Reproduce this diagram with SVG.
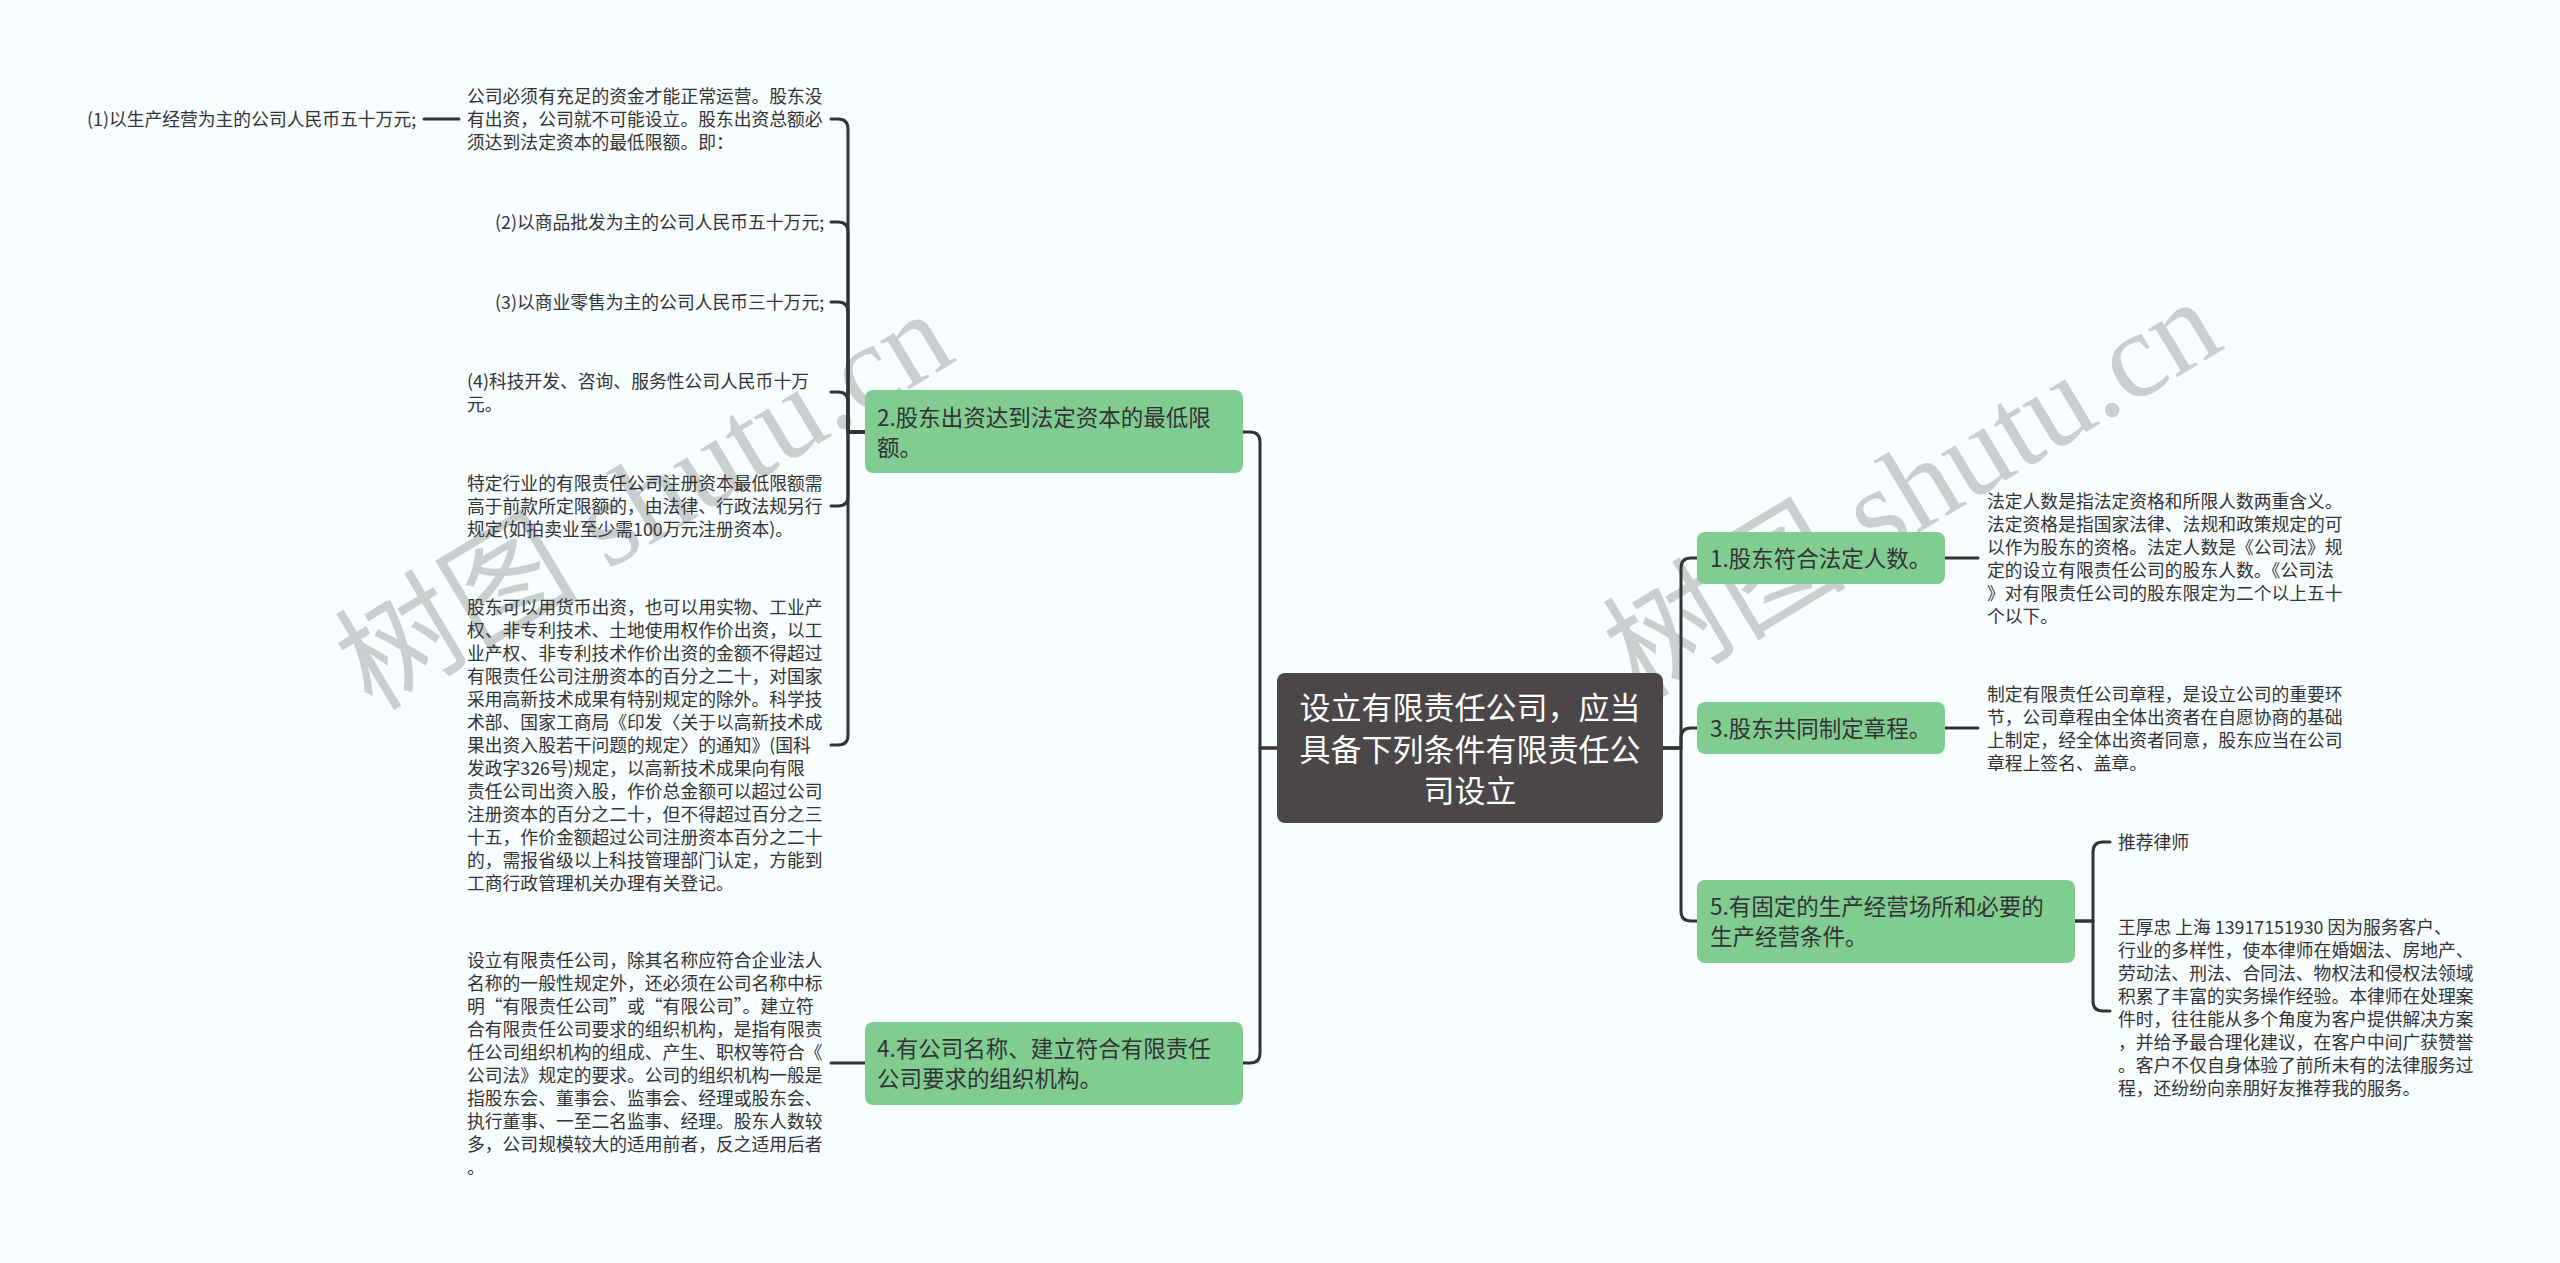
<svg xmlns="http://www.w3.org/2000/svg" width="2560" height="1263" viewBox="0 0 2560 1263">
<style>
.bg{fill:#f7fcfe}
.wm{font-family:"Liberation Serif","Noto Sans CJK SC",serif;font-size:122px;fill:#c4c6c7;opacity:0.85}
.leaf{font-family:"Noto Sans CJK SC","Noto Sans",sans-serif;font-size:17.8px;fill:#333333}
.sub{font-family:"Noto Sans CJK SC","Noto Sans",sans-serif;font-size:22.5px;fill:#333333}
.root{font-family:"Noto Sans CJK SC","Noto Sans",sans-serif;font-size:31px;fill:#ffffff;text-anchor:middle}
.gbox{fill:#80cc91}
.rbox{fill:#4b4647}
.conn path{fill:none;stroke:#333333;stroke-width:3;stroke-linecap:round;stroke-linejoin:round}
</style>
<rect class="bg" x="0" y="0" width="2560" height="1263"/>
<g id="watermarks">
<text class="wm" transform="translate(372,712) rotate(-31)">树图 shutu.cn</text>
<text class="wm" transform="translate(1640,700) rotate(-31)">树图 shutu.cn</text>
</g>
<g class="conn" id="connectors">
<path d="M1277,748 H1260 V442 Q1260,432 1250,432 H1243"/>
<path d="M1277,748 H1260 V1053 Q1260,1063 1250,1063 H1243"/>
<path d="M1662,748 H1681 V568 Q1681,558 1691,558 H1697"/>
<path d="M1662,748 H1681 V738 Q1681,728 1691,728 H1697"/>
<path d="M1662,748 H1681 V911 Q1681,921 1691,921 H1697"/>
<path d="M865,432 H848 V129 Q848,119 838,119 H831"/>
<path d="M865,432 H848 V232 Q848,222 838,222 H831"/>
<path d="M865,432 H848 V312 Q848,302 838,302 H831"/>
<path d="M865,432 H848 V402 Q848,392 838,392 H831"/>
<path d="M865,432 H848 V496 Q848,506 838,506 H831"/>
<path d="M865,432 H848 V735 Q848,745 838,745 H831"/>
<path d="M459,119 H424"/>
<path d="M865,1063 H831"/>
<path d="M1945,558 H1978"/>
<path d="M1945,728 H1978"/>
<path d="M2075,921 H2093 V852 Q2093,842 2103,842 H2110"/>
<path d="M2075,921 H2093 V1001 Q2093,1011 2103,1011 H2110"/>
</g>
<g id="root">
<rect class="rbox" x="1277" y="673" width="386" height="150" rx="8"/>
<text class="root"><tspan x="1470" y="719">设立有限责任公司，应当</tspan><tspan x="1470" y="761">具备下列条件有限责任公</tspan><tspan x="1470" y="802">司设立</tspan></text>
</g>
<g id="n2">
<rect class="gbox" x="865" y="390" width="378" height="83" rx="8"/>
<text class="sub"><tspan x="877" y="425.5">2.股东出资达到法定资本的最低限</tspan><tspan x="877" y="455.5">额。</tspan></text>
</g>
<g id="n4">
<rect class="gbox" x="865" y="1022" width="378" height="83" rx="8"/>
<text class="sub"><tspan x="877" y="1056.5">4.有公司名称、建立符合有限责任</tspan><tspan x="877" y="1086.5">公司要求的组织机构。</tspan></text>
</g>
<g id="n1">
<rect class="gbox" x="1697" y="532" width="248" height="52" rx="8"/>
<text class="sub" x="1710" y="566.5">1.股东符合法定人数。</text>
</g>
<g id="n3">
<rect class="gbox" x="1697" y="702" width="248" height="52" rx="8"/>
<text class="sub" x="1710" y="736.5">3.股东共同制定章程。</text>
</g>
<g id="n5">
<rect class="gbox" x="1697" y="880" width="378" height="83" rx="8"/>
<text class="sub"><tspan x="1710" y="914.5">5.有固定的生产经营场所和必要的</tspan><tspan x="1710" y="944.5">生产经营条件。</tspan></text>
</g>
<g id="leafA">
<text class="leaf"><tspan x="467" y="103">公司必须有充足的资金才能正常运营。股东没</tspan><tspan x="467" y="126">有出资，公司就不可能设立。股东出资总额必</tspan><tspan x="467" y="149">须达到法定资本的最低限额。即：</tspan></text>
</g>
<g id="leaf1">
<text class="leaf" x="87" y="126">(1)以生产经营为主的公司人民币五十万元;</text>
</g>
<g id="leaf2">
<text class="leaf" x="495" y="229">(2)以商品批发为主的公司人民币五十万元;</text>
</g>
<g id="leaf3">
<text class="leaf" x="495" y="309">(3)以商业零售为主的公司人民币三十万元;</text>
</g>
<g id="leaf4">
<text class="leaf"><tspan x="467" y="388">(4)科技开发、咨询、服务性公司人民币十万</tspan><tspan x="467" y="411">元。</tspan></text>
</g>
<g id="leaf5">
<text class="leaf"><tspan x="467" y="490">特定行业的有限责任公司注册资本最低限额需</tspan><tspan x="467" y="513">高于前款所定限额的，由法律、行政法规另行</tspan><tspan x="467" y="536">规定(如拍卖业至少需100万元注册资本)。</tspan></text>
</g>
<g id="leaf6">
<text class="leaf"><tspan x="467" y="614">股东可以用货币出资，也可以用实物、工业产</tspan><tspan x="467" y="637">权、非专利技术、土地使用权作价出资，以工</tspan><tspan x="467" y="660">业产权、非专利技术作价出资的金额不得超过</tspan><tspan x="467" y="683">有限责任公司注册资本的百分之二十，对国家</tspan><tspan x="467" y="706">采用高新技术成果有特别规定的除外。科学技</tspan><tspan x="467" y="729">术部、国家工商局《印发〈关于以高新技术成</tspan><tspan x="467" y="752">果出资入股若干问题的规定〉的通知》(国科</tspan><tspan x="467" y="775">发政字326号)规定，以高新技术成果向有限</tspan><tspan x="467" y="798">责任公司出资入股，作价总金额可以超过公司</tspan><tspan x="467" y="821">注册资本的百分之二十，但不得超过百分之三</tspan><tspan x="467" y="844">十五，作价金额超过公司注册资本百分之二十</tspan><tspan x="467" y="867">的，需报省级以上科技管理部门认定，方能到</tspan><tspan x="467" y="890">工商行政管理机关办理有关登记。</tspan></text>
</g>
<g id="leaf7">
<text class="leaf"><tspan x="467" y="967">设立有限责任公司，除其名称应符合企业法人</tspan><tspan x="467" y="990">名称的一般性规定外，还必须在公司名称中标</tspan><tspan x="467" y="1013">明“有限责任公司”或“有限公司”。建立符</tspan><tspan x="467" y="1036">合有限责任公司要求的组织机构，是指有限责</tspan><tspan x="467" y="1059">任公司组织机构的组成、产生、职权等符合《</tspan><tspan x="467" y="1082">公司法》规定的要求。公司的组织机构一般是</tspan><tspan x="467" y="1105">指股东会、董事会、监事会、经理或股东会、</tspan><tspan x="467" y="1128">执行董事、一至二名监事、经理。股东人数较</tspan><tspan x="467" y="1151">多，公司规模较大的适用前者，反之适用后者</tspan><tspan x="467" y="1174">。</tspan></text>
</g>
<g id="leaf8">
<text class="leaf"><tspan x="1987" y="508">法定人数是指法定资格和所限人数两重含义。</tspan><tspan x="1987" y="531">法定资格是指国家法律、法规和政策规定的可</tspan><tspan x="1987" y="554">以作为股东的资格。法定人数是《公司法》规</tspan><tspan x="1987" y="577">定的设立有限责任公司的股东人数。《公司法</tspan><tspan x="1987" y="600">》对有限责任公司的股东限定为二个以上五十</tspan><tspan x="1987" y="623">个以下。</tspan></text>
</g>
<g id="leaf9">
<text class="leaf"><tspan x="1987" y="701">制定有限责任公司章程，是设立公司的重要环</tspan><tspan x="1987" y="724">节，公司章程由全体出资者在自愿协商的基础</tspan><tspan x="1987" y="747">上制定，经全体出资者同意，股东应当在公司</tspan><tspan x="1987" y="770">章程上签名、盖章。</tspan></text>
</g>
<g id="leaf10">
<text class="leaf" x="2118" y="849">推荐律师</text>
</g>
<g id="leaf11">
<text class="leaf"><tspan x="2118" y="934">王厚忠 上海 13917151930 因为服务客户、</tspan><tspan x="2118" y="957">行业的多样性，使本律师在婚姻法、房地产、</tspan><tspan x="2118" y="980">劳动法、刑法、合同法、物权法和侵权法领域</tspan><tspan x="2118" y="1003">积累了丰富的实务操作经验。本律师在处理案</tspan><tspan x="2118" y="1026">件时，往往能从多个角度为客户提供解决方案</tspan><tspan x="2118" y="1049">，并给予最合理化建议，在客户中间广获赞誉</tspan><tspan x="2118" y="1072">。客户不仅自身体验了前所未有的法律服务过</tspan><tspan x="2118" y="1095">程，还纷纷向亲朋好友推荐我的服务。</tspan></text>
</g>
</svg>
